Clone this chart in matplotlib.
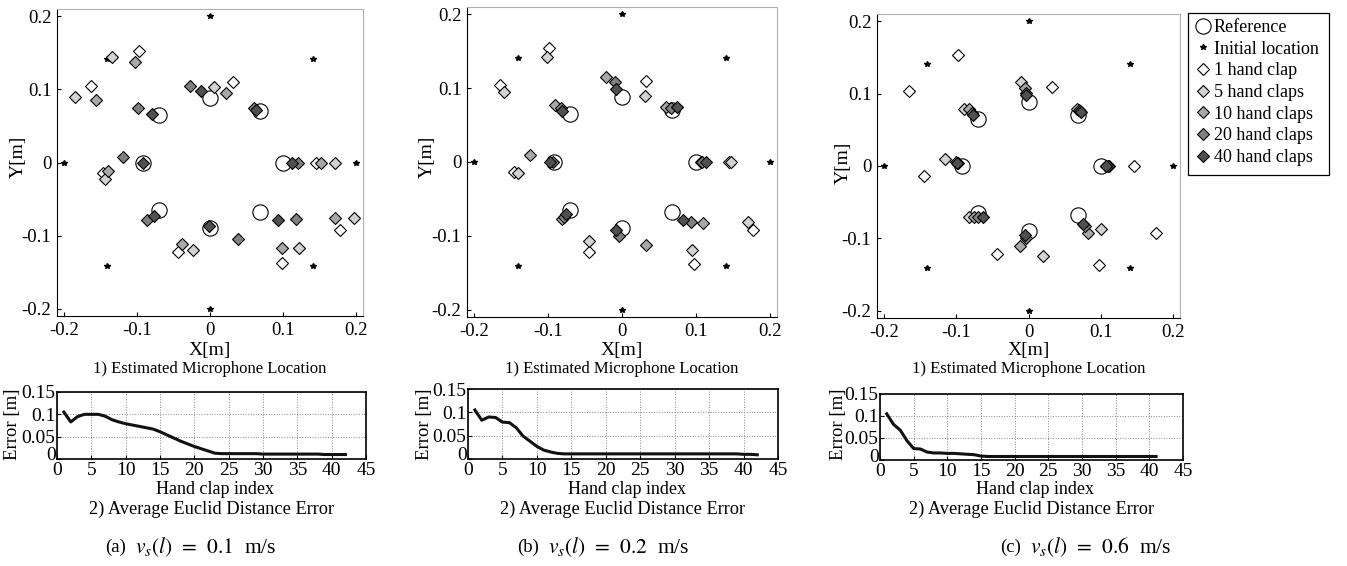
import numpy as np
import matplotlib as mpl
import matplotlib.pyplot as plt
from matplotlib.lines import Line2D
from matplotlib.patches import Rectangle
from matplotlib.transforms import ScaledTranslation

mpl.rcParams['font.family'] = ['Liberation Serif', 'DejaVu Serif']
mpl.rcParams['mathtext.fontset'] = 'stix'
mpl.rcParams['axes.unicode_minus'] = False

W, H = 1347, 566

# true microphone positions and the initial guesses
ref_x = [0.0, 0.068, 0.1, 0.068, 0.0, -0.07, -0.092, -0.07]
ref_y = [0.088, 0.07, 0.0, -0.068, -0.09, -0.065, 0.0, 0.065]
init_x = [0.0, 0.141, 0.2, 0.141, 0.0, -0.141, -0.2, -0.141]
init_y = [0.2, 0.141, 0.0, -0.141, -0.2, -0.141, 0.0, 0.141]

# estimated locations, (a) v = 0.1 m/s
a_1 = [(-0.098, 0.153), (-0.164, 0.104), (0.032, 0.110), (-0.147, -0.014),
       (0.146, 0.0), (-0.044, -0.122), (0.099, -0.138), (0.178, -0.092)]
a_5 = [(-0.134, 0.145), (-0.185, 0.090), (0.005, 0.103), (-0.144, -0.023),
       (0.171, 0.0), (-0.024, -0.120), (0.122, -0.117), (0.197, -0.076)]
a_10 = [(-0.103, 0.137), (-0.157, 0.086), (0.022, 0.095), (-0.140, -0.012),
        (0.152, 0.0), (-0.039, -0.111), (0.099, -0.117), (0.171, -0.076)]
a_20 = [(-0.099, 0.075), (-0.027, 0.105), (0.060, 0.075), (-0.120, 0.008),
        (0.121, 0.0), (-0.086, -0.079), (0.038, -0.105), (0.118, -0.077)]
a_40 = [(-0.079, 0.067), (-0.012, 0.098), (0.063, 0.072), (-0.092, 0.0),
        (0.112, 0.0), (-0.077, -0.073), (-0.002, -0.087), (0.094, -0.078)]

# (b) v = 0.2 m/s
b_1 = [(-0.099, 0.154), (-0.165, 0.105), (0.032, 0.110), (-0.146, -0.013),
       (0.145, 0.0), (-0.045, -0.122), (0.097, -0.138), (0.177, -0.092)]
b_5 = [(-0.102, 0.142), (-0.160, 0.095), (0.031, 0.089), (-0.141, -0.015),
       (0.147, 0.0), (-0.045, -0.107), (0.095, -0.119), (0.171, -0.081)]
b_10 = [(-0.091, 0.077), (-0.022, 0.115), (0.059, 0.075), (-0.124, 0.010),
        (0.107, 0.0), (-0.081, -0.077), (0.033, -0.113), (0.110, -0.083)]
b_20 = [(-0.083, 0.073), (-0.010, 0.109), (0.066, 0.073), (-0.094, 0.0),
        (0.109, 0.0), (-0.078, -0.074), (-0.004, -0.100), (0.093, -0.081)]
b_40 = [(-0.081, 0.069), (-0.008, 0.099), (0.074, 0.075), (-0.097, 0.0),
        (0.114, 0.0), (-0.076, -0.071), (-0.008, -0.092), (0.082, -0.078)]

# (c) v = 0.6 m/s
c_1 = [(-0.098, 0.153), (-0.165, 0.104), (0.032, 0.109), (-0.145, -0.014),
       (0.146, 0.0), (-0.044, -0.121), (0.098, -0.137), (0.177, -0.093)]
c_5 = [(-0.011, 0.116), (-0.089, 0.079), (0.067, 0.079), (-0.116, 0.010),
       (0.112, 0.0), (-0.083, -0.071), (0.020, -0.125), (0.100, -0.087)]
c_10 = [(-0.005, 0.108), (-0.082, 0.079), (0.070, 0.077), (-0.100, 0.006),
        (0.110, 0.0), (-0.076, -0.071), (-0.012, -0.110), (0.083, -0.092)]
c_20 = [(-0.004, 0.101), (-0.079, 0.073), (0.071, 0.076), (-0.098, 0.004),
        (0.108, 0.0), (-0.070, -0.070), (-0.003, -0.100), (0.078, -0.083)]
c_40 = [(-0.004, 0.098), (-0.077, 0.070), (0.073, 0.075), (-0.099, 0.004),
        (0.107, 0.0), (-0.063, -0.071), (-0.005, -0.095), (0.076, -0.080)]

# average euclid distance error per hand clap
err_a = [0.105, 0.083, 0.095, 0.100, 0.100, 0.100, 0.096, 0.088, 0.083, 0.079,
         0.076, 0.073, 0.070, 0.067, 0.061, 0.054, 0.047, 0.040, 0.034, 0.028,
         0.023, 0.018, 0.013, 0.012, 0.012, 0.012, 0.012, 0.012, 0.012, 0.011,
         0.011, 0.011, 0.011, 0.011, 0.011, 0.011, 0.011, 0.011, 0.010, 0.010,
         0.010, 0.010]
err_b = [0.105, 0.083, 0.090, 0.089, 0.079, 0.078, 0.067, 0.049, 0.038, 0.027,
         0.019, 0.015, 0.012, 0.011, 0.011, 0.011, 0.011, 0.011, 0.011, 0.011,
         0.011, 0.011, 0.011, 0.011, 0.011, 0.011, 0.011, 0.011, 0.011, 0.011,
         0.011, 0.011, 0.011, 0.011, 0.011, 0.011, 0.011, 0.011, 0.011, 0.010,
         0.010, 0.009]
err_c = [0.105, 0.081, 0.068, 0.044, 0.026, 0.025, 0.018, 0.016, 0.016, 0.015,
         0.015, 0.014, 0.013, 0.012, 0.009, 0.008, 0.008, 0.008, 0.008, 0.008,
         0.008, 0.008, 0.008, 0.008, 0.008, 0.008, 0.008, 0.008, 0.008, 0.008,
         0.008, 0.008, 0.008, 0.008, 0.008, 0.008, 0.008, 0.008, 0.008, 0.008,
         0.008]

clap_labels = ['1 hand clap', '5 hand claps', '10 hand claps',
               '20 hand claps', '40 hand claps']
clap_colors = ['white', '#d2d2d2', '#a8a8a8', '#808080', '#505050']
cap_tags = ['(a)', '(b)', '(c)']
cap_speeds = ['0.1', '0.2', '0.6']

panels = [
    dict(est=[a_1, a_5, a_10, a_20, a_40], err=err_a,
         sc=(57, 9, 363, 316), er=(57, 392, 366, 459),
         ylab=(18, 157), elab=(13, 424), cap=(116, 135)),
    dict(est=[b_1, b_5, b_10, b_20, b_40], err=err_b,
         sc=(467, 7, 777, 317), er=(468, 389, 778, 459),
         ylab=(427, 157), elab=(425, 424), cap=(528, 548)),
    dict(est=[c_1, c_5, c_10, c_20, c_40], err=err_c,
         sc=(877, 14, 1180, 318), er=(880, 394, 1183, 460),
         ylab=(843, 163), elab=(838, 424), cap=(1011, 1030)),
]


def box(l, t, r, b):
    return [l / W, 1 - b / H, (r - l) / W, (b - t) / H]


def ftext(x, y, s, ha='center', **kw):
    fig.text(x / W, 1 - y / H, s, ha=ha, va='center', **kw)


fig = plt.figure(figsize=(W / 100, H / 100), dpi=100)

for i, p in enumerate(panels):
    # 1) estimated microphone location
    ax = fig.add_axes(box(*p['sc']))
    ax.plot(ref_x, ref_y, 'o', mfc='none', mec='k', ms=11, mew=0.8)
    ax.plot(init_x, init_y, '*', color='k', ms=4)
    for pts, col in zip(p['est'], clap_colors):
        xs, ys = zip(*pts)
        ax.plot(xs, ys, 'D', mfc=col, mec='k', ms=5.8, mew=0.8)
    ax.set_xlim(-0.21, 0.21)
    ax.set_ylim(-0.21, 0.21)
    ticks = [-0.2, -0.1, 0, 0.1, 0.2]
    ax.set_xticks(ticks)
    ax.set_yticks(ticks)
    ax.set_xticklabels(['-0.2', '-0.1', '0', '0.1', '0.2'])
    ax.set_yticklabels(['-0.2', '-0.1', '0', '0.1', '0.2'])
    ax.tick_params(direction='in', length=3, labelsize=13.5, pad=4)
    for s in ['top', 'right']:
        ax.spines[s].set_color('#b0b0b0')
    l, t, r, b = p['sc']
    ftext(p['ylab'][0], p['ylab'][1], 'Y[m]', fontsize=14, rotation=90)
    ftext((l + r) / 2, 350, 'X[m]', fontsize=14)
    ftext((l + r) / 2, 369, '1) Estimated Microphone Location', fontsize=12)

    # 2) average euclid distance error
    ax2 = fig.add_axes(box(*p['er']))
    idx = np.arange(1, len(p['err']) + 1)
    ax2.plot(idx, p['err'], color='#111111', lw=2.2)
    ax2.set_xlim(0, 45)
    ax2.set_ylim(0, 0.15)
    ax2.set_xticks(range(0, 46, 5))
    ax2.set_yticks([0, 0.05, 0.1, 0.15])
    ax2.set_yticklabels(['0', '0.05', '0.1', '0.15'])
    ax2.grid(True, linestyle=':', color='#888888', lw=0.7)
    ax2.tick_params(direction='in', length=3, labelsize=14)
    ax2.tick_params(axis='y', pad=1)
    ax2.tick_params(axis='x', pad=2.5)
    # lift the y "0" a little so it clears the x "0" in the corner
    zero = ax2.get_yticklabels()[0]
    zero.set_transform(zero.get_transform()
                       + ScaledTranslation(0, 5 / 100, fig.dpi_scale_trans))
    for s in ax2.spines.values():
        s.set_linewidth(1.2)
    l, t, r, b = p['er']
    ftext(p['elab'][0], p['elab'][1], 'Error [m]', fontsize=13.5, rotation=90)
    ftext((l + r) / 2 + 4, 489, 'Hand clap index', fontsize=13)
    ftext((l + r) / 2, 509, '2) Average Euclid Distance Error', fontsize=13.2)

    # caption
    ftext(p['cap'][0], 547, cap_tags[i], fontsize=13.5)
    ftext(p['cap'][1], 547, r'$v_s(l)\;\,=\;\,%s$  m/s' % cap_speeds[i],
          ha='left', fontsize=15.5)

handles = [Line2D([], [], ls='none', marker='o', mfc='none', mec='k', ms=11, mew=0.8),
           Line2D([], [], ls='none', marker='*', color='k', ms=4)]
handles += [Line2D([], [], ls='none', marker='D', mfc=c, mec='k', ms=5.8, mew=0.8)
            for c in clap_colors]
labels = ['Reference', 'Initial location'] + clap_labels
leg = fig.legend(handles, labels, loc='upper left',
                 bbox_to_anchor=(1195 / W, 1 - 19 / H), fontsize=13,
                 frameon=False, borderpad=0, handlelength=0.9,
                 handletextpad=0.15, labelspacing=0.26, borderaxespad=0)
fig.patches.append(Rectangle((1188 / W, 1 - 175 / H), 141 / W, 162 / H,
                             transform=fig.transFigure, fill=False,
                             edgecolor='k', lw=0.9))

fig.savefig('out.png', dpi=100)
